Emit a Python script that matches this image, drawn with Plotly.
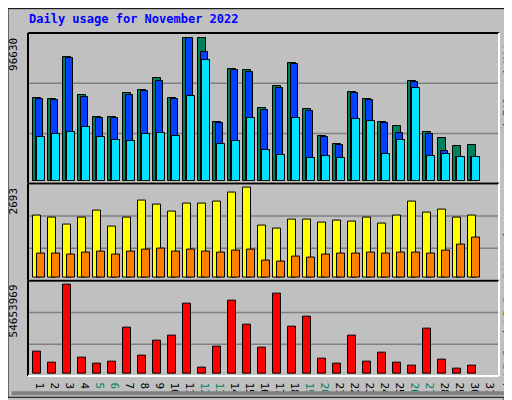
import plotly.graph_objects as go

days = list(range(1, 32))
weekend = [5, 6, 12, 13, 19, 20, 26, 27]

hits = [55870, 55210, 83480, 57840, 43380, 43380, 59160, 61130, 69670, 55870,
        96630, 96630, 39440, 75590, 74930, 49300, 63760, 79530, 48640, 30240,
        24980, 59810, 55210, 39440, 36810, 67700, 32870, 28920, 23660, 24320]
files = [55190, 54530, 82780, 56500, 42050, 42710, 57820, 60440, 67670, 55190,
         96580, 86720, 38760, 74900, 73580, 47960, 62420, 78840, 47300, 29570,
         24310, 59130, 54530, 38760, 32190, 67010, 31540, 20370, 15770, 15770]
pages = [29570, 31540, 32850, 36140, 29570, 27600, 26940, 31540, 32190, 30220,
         57160, 81470, 24970, 26940, 42710, 21020, 17080, 42050, 15110, 16430,
         15110, 41390, 40080, 17740, 27600, 62420, 16430, 17740, 15770, 15770]
visits = [1847, 1789, 1585, 1789, 1993, 1526, 1789, 2314, 2197, 1964,
          2226, 2226, 2285, 2547, 2693, 1556, 1468, 1731, 1731, 1643,
          1701, 1672, 1789, 1614, 1847, 2285, 1935, 2051, 1789, 1847]
sites = [710, 710, 680, 739, 768, 680, 768, 826, 855, 768,
         826, 768, 739, 797, 826, 505, 476, 622, 593, 680,
         710, 710, 739, 710, 739, 739, 710, 797, 972, 1205]
kbytes = [13.36e6, 6.78e6, 54653969, 9.77e6, 6.18e6, 7.38e6, 28.32e6, 10.97e6, 20.55e6, 23.54e6,
          43.28e6, 3.79e6, 16.95e6, 45.08e6, 30.12e6, 15.76e6, 49.27e6, 28.92e6, 34.91e6, 9.18e6,
          6.18e6, 23.54e6, 7.38e6, 12.77e6, 6.78e6, 4.99e6, 27.73e6, 8.58e6, 3.19e6, 4.99e6]

C_HITS, C_FILES, C_PAGES = "#00805c", "#0040ff", "#00e0ff"
C_VISITS, C_SITES, C_KB = "#ffff00", "#ff8000", "#ff0000"
MONO = "DejaVu Sans Mono"

fig = go.Figure()
n = len(hits)


def bars(vals, color, offset, width, yaxis):
    fig.add_trace(go.Bar(
        x=[d + offset for d in days[:n]], y=vals, width=width, yaxis=yaxis,
        marker=dict(color=color, line=dict(color="black", width=1)),
        hoverinfo="skip", showlegend=False))


bars(hits, C_HITS, -0.25, 0.53, "y")
bars(files, C_FILES, -0.12, 0.5, "y")
bars(pages, C_PAGES, 0.0, 0.5, "y")
bars(visits, C_VISITS, -0.25, 0.53, "y2")
bars(sites, C_SITES, 0.0, 0.5, "y2")
bars(kbytes, C_KB, -0.27, 0.5, "y3")

ticktext = [f'<span style="color:{C_HITS if d in weekend else "black"}">{d}</span>' for d in days]

axis_common = dict(showgrid=False, zeroline=False, showticklabels=False, showline=False)
fig.update_layout(
    width=512, height=400,
    margin=dict(l=20, r=21, t=25, b=22),
    paper_bgcolor="#c0c0c0", plot_bgcolor="#c0c0c0",
    barmode="overlay", bargap=0,
    xaxis=dict(range=[0.13, 31.53], tickvals=days, ticktext=ticktext, showgrid=False,
               anchor="y3", zeroline=False, ticks="", ticklen=0,
               tickfont=dict(family=MONO, size=11, color="black")),
    yaxis=dict(domain=[0.561, 1], range=[-1971, 99870], **axis_common),
    yaxis2=dict(domain=[0.278, 0.561], range=[-97, 2818], **axis_common),
    yaxis3=dict(domain=[0, 0.278], range=[-1.38e6, 57.26e6], **axis_common),
    font=dict(family=MONO),
)

# grid lines at thirds, panel borders
for ya in ["y", "y2", "y3"]:
    for f in (1 / 3, 2 / 3):
        fig.add_shape(type="line", xref="x domain", yref=f"{ya} domain", x0=0, x1=1, y0=f, y1=f,
                      line=dict(color="#808080", width=1.5), layer="below")
    fig.add_shape(type="line", xref="x domain", yref=f"{ya} domain", x0=0, x1=1, y0=1, y1=1,
                  line=dict(color="black", width=2))
    fig.add_shape(type="line", xref="x domain", yref=f"{ya} domain", x0=0, x1=0, y0=0, y1=1,
                  line=dict(color="black", width=2))
    fig.add_shape(type="line", xref="x domain", yref=f"{ya} domain", x0=1, x1=1, y0=0, y1=1,
                  line=dict(color="white", width=2))
    fig.add_shape(type="line", xref="x domain", yref=f"{ya} domain", x0=0, x1=1, y0=0, y1=0,
                  line=dict(color="white", width=2))

# outer bevel frame
fig.add_shape(type="rect", xref="paper", yref="paper", x0=-0.0425, x1=1.0445, y0=-0.062, y1=1.071,
              line=dict(color="black", width=1))
fig.add_shape(type="line", xref="paper", yref="paper", x0=1.034, x1=1.034, y0=-0.05, y1=1.06,
              line=dict(color="#808080", width=4))
fig.add_shape(type="line", xref="paper", yref="paper", x0=-0.035, x1=1.034, y0=-0.05, y1=-0.05,
              line=dict(color="#808080", width=4))

fig.add_annotation(xref="paper", yref="paper", x=-0.002, y=1.068, xanchor="left", yanchor="top",
                   text="<b>Daily usage for November 2022</b>", showarrow=False,
                   font=dict(family=MONO, size=12, color="#0000ff"))

left_labels = [("96630", "y"), ("2693", "y2"), ("54653969", "y3")]
for txt, ya in left_labels:
    fig.add_annotation(xref="paper", yref=f"{ya} domain", x=-0.013, y=0.98, xanchor="right",
                       yanchor="top", text=txt, textangle=-90, showarrow=False,
                       font=dict(family=MONO, size=11, color="black"))


def side(parts, ya):
    sep = '<span style="color:black"> / </span>'
    text = sep.join(f'<span style="color:{c}">{t}</span>' for t, c in parts)
    fig.add_annotation(xref="paper", yref=f"{ya} domain", x=1.018, y=0.99, xanchor="center",
                       yanchor="top", text=text, textangle=-90, showarrow=False,
                       font=dict(family=MONO, size=11))


side([("Pages", C_PAGES), ("Files", C_FILES), ("Hits", C_HITS)], "y")
side([("Sites", C_SITES), ("Visits", C_VISITS)], "y2")
side([("kB F", C_KB), ("kB In", "#0080ff"), ("kB Out", "#00c000")], "y3")

fig.write_html("out.html")
